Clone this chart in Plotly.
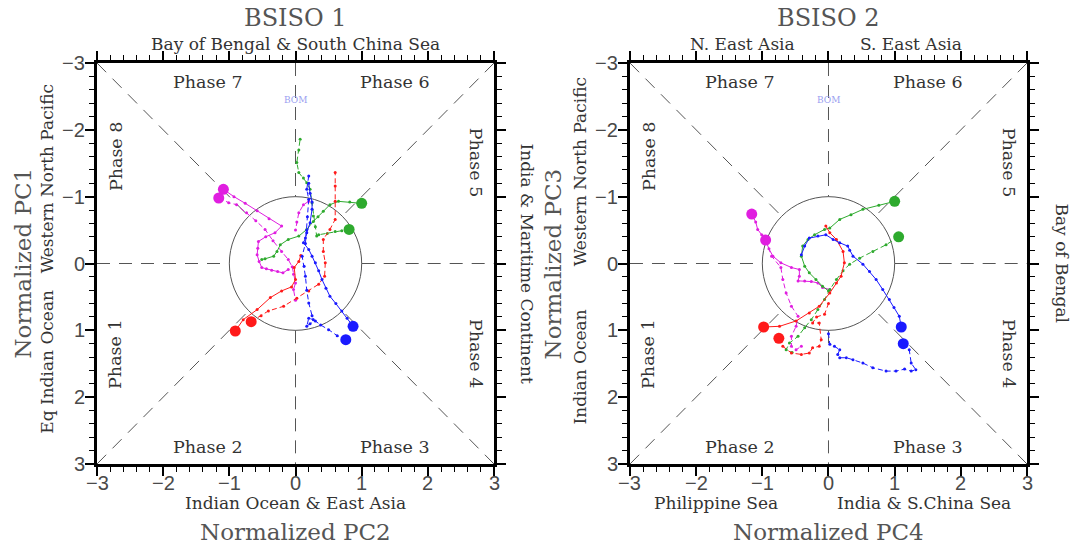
import math
import plotly.graph_objects as go

LIM = 3
R = 1.0

# ---------------- BSISO 1 (x = PC2, y = PC1) ----------------
b1_mag_solid_x = [-1.09, -0.93, -0.76, -0.58, -0.40, -0.21, -0.31, -0.45, -0.56, -0.57, -0.58, -0.55, -0.51, -0.44, -0.36, -0.27, -0.19, -0.11]
b1_mag_solid_y = [-1.11, -1.00, -0.90, -0.79, -0.67, -0.56, -0.46, -0.40, -0.33, -0.23, -0.13, -0.03, 0.06, 0.08, 0.10, 0.12, 0.14, 0.09]
b1_mag_dash_x = [-1.16, -1.01, -0.89, -0.74, -0.60, -0.46, -0.34, -0.21, -0.11, -0.05, -0.03, 0.00, -0.03, 0.00, None, 0.20, 0.12, 0.05, 0.02, 0.00]
b1_mag_dash_y = [-0.98, -0.91, -0.88, -0.76, -0.64, -0.51, -0.34, -0.18, -0.06, 0.05, 0.16, 0.29, 0.39, 0.55, None, -0.93, -0.88, -0.76, -0.62, -0.50]
b1_grn_solid_x = [1.00, 0.82, 0.65, 0.52, 0.42, 0.34, 0.27, 0.17, 0.05, -0.11, -0.23, -0.28, -0.33, -0.46, -0.51]
b1_grn_solid_y = [-0.90, -0.92, -0.93, -0.88, -0.78, -0.70, -0.63, -0.51, -0.41, -0.36, -0.28, -0.18, -0.11, -0.07, -0.06]
b1_grn_dash_x = [0.81, 0.70, 0.60, 0.48, 0.35, 0.32, 0.30, 0.27, 0.25, 0.22, 0.17, 0.12, 0.05, 0.02, 0.05, 0.07]
b1_grn_dash_y = [-0.51, -0.49, -0.48, -0.45, -0.43, -0.41, -0.55, -0.71, -0.91, -1.11, -1.21, -1.28, -1.36, -1.51, -1.70, -1.86]
b1_red_solid_x = [-0.91, -0.79, -0.58, -0.38, -0.21, -0.06, 0.00, -0.02, 0.05, 0.08]
b1_red_solid_y = [1.01, 0.84, 0.69, 0.51, 0.41, 0.35, 0.24, 0.06, -0.03, -0.12]
b1_red_dash_x = [-0.67, -0.52, -0.41, -0.18, 0.02, 0.20, 0.35, 0.44, 0.45, 0.42, 0.42, 0.52, 0.60, 0.60, 0.60, 0.60]
b1_red_dash_y = [0.87, 0.78, 0.71, 0.64, 0.52, 0.41, 0.31, 0.19, -0.01, -0.18, -0.36, -0.51, -0.66, -0.93, -1.16, -1.36]
b1_blu_solid_x = [0.87, 0.78, 0.70, 0.61, 0.52, 0.46, 0.40, 0.35, 0.30, 0.25, 0.20, 0.12, 0.15, 0.17, 0.22, 0.25, 0.25, 0.22, 0.20]
b1_blu_solid_y = [0.94, 0.82, 0.71, 0.60, 0.49, 0.37, 0.24, 0.11, -0.01, -0.11, -0.21, -0.31, -0.38, -0.46, -0.61, -0.81, -0.92, -1.05, -1.20]
b1_blu_dash_x = [0.76, 0.63, 0.50, 0.38, 0.30, 0.22, 0.17, 0.20, 0.27, 0.25, 0.20, 0.17, 0.15, 0.13, 0.10, 0.15, 0.17, 0.18, 0.20, 0.17, 0.20]
b1_blu_dash_y = [1.14, 1.08, 0.99, 0.92, 0.86, 0.90, 0.94, 0.82, 0.84, 0.78, 0.59, 0.40, 0.19, 0.04, -0.11, -0.30, -0.50, -0.70, -0.96, -1.11, -1.31]

# ---------------- BSISO 2 (x = PC4, y = PC3) ----------------
b2_mag_solid_x = [-1.16, -1.10, -1.07, -1.01, -0.95, -0.90, -0.84, -0.72, -0.56, -0.44, -0.44, -0.46, -0.36, -0.26, -0.16, -0.09, 0.02]
b2_mag_solid_y = [-0.74, -0.62, -0.51, -0.43, -0.35, -0.22, -0.11, -0.01, 0.06, 0.09, 0.19, 0.26, 0.26, 0.27, 0.29, 0.36, 0.39]
b2_mag_dash_x = [-0.95, -0.86, -0.72, -0.69, -0.64, -0.56, -0.46, -0.49, -0.56, -0.56, -0.49, -0.41]
b2_mag_dash_y = [-0.35, -0.11, 0.06, 0.24, 0.44, 0.64, 0.79, 0.94, 1.09, 1.24, 1.29, 1.24]
b2_grn_solid_x = [1.00, 0.76, 0.52, 0.34, 0.17, 0.02, -0.06, -0.21, -0.31, -0.39, -0.41, -0.36, -0.29, -0.19, -0.09, 0.00]
b2_grn_solid_y = [-0.93, -0.87, -0.81, -0.73, -0.66, -0.53, -0.51, -0.43, -0.36, -0.26, -0.11, 0.04, 0.14, 0.24, 0.34, 0.41]
b2_grn_dash_x = [1.06, 0.87, 0.67, 0.47, 0.32, 0.22, 0.12, 0.02, -0.06, -0.16, -0.26, -0.36, -0.46, -0.59, -0.64, -0.55]
b2_grn_dash_y = [-0.40, -0.28, -0.18, -0.08, 0.01, 0.11, 0.24, 0.39, 0.54, 0.69, 0.84, 0.96, 1.09, 1.19, 1.29, 1.33]
b2_red_solid_x = [-0.98, -0.74, -0.49, -0.29, -0.14, 0.02, 0.12, 0.19, 0.24, 0.22, 0.12, 0.02, -0.04]
b2_red_solid_y = [0.95, 0.94, 0.86, 0.74, 0.64, 0.44, 0.29, 0.19, -0.01, -0.18, -0.36, -0.46, -0.56]
b2_red_dash_x = [-0.75, -0.69, -0.56, -0.41, -0.29, -0.24, -0.14, -0.11, -0.14, -0.24, -0.18, -0.06, 0.00]
b2_red_dash_y = [1.12, 1.24, 1.34, 1.36, 1.34, 1.26, 1.24, 1.14, 0.89, 0.89, 0.80, 0.76, 0.60]
b2_blu_solid_x = [1.10, 1.07, 0.99, 0.92, 0.82, 0.72, 0.62, 0.52, 0.37, 0.32, 0.29, 0.17, 0.07, -0.04, -0.16, -0.29, -0.36, -0.41]
b2_blu_solid_y = [0.95, 0.79, 0.66, 0.54, 0.39, 0.24, 0.12, 0.01, -0.11, -0.20, -0.26, -0.31, -0.36, -0.43, -0.41, -0.38, -0.26, -0.13]
b2_blu_dash_x = [1.13, 1.22, 1.25, 1.32, 1.25, 1.15, 1.02, 0.87, 0.67, 0.52, 0.37, 0.27, 0.17, 0.14, 0.17, 0.09, 0.02, 0.00]
b2_blu_dash_y = [1.20, 1.29, 1.49, 1.59, 1.61, 1.58, 1.61, 1.61, 1.56, 1.49, 1.44, 1.41, 1.41, 1.36, 1.29, 1.24, 1.21, 1.05]

tick_vals = [-3, -2, -1, 0, 1, 2, 3]
phase_labels = ["Phase 1", "Phase 2", "Phase 3", "Phase 4", "Phase 5", "Phase 6", "Phase 7", "Phase 8"]

RED = "#ff1a1a"
GRN = "#2eaa2e"
BLU = "#1a1aff"
MAG = "#e01ee0"

fig = go.Figure()


def add_track(xs, ys, color, dashed, xa, ya):
    fig.add_trace(go.Scatter(
        x=xs, y=ys, mode="lines+markers", xaxis=xa, yaxis=ya,
        line=dict(color=color, width=1, dash="5px,3px" if dashed else "solid"),
        marker=dict(size=3, color=color), showlegend=False, hoverinfo="skip"))
    fig.add_trace(go.Scatter(
        x=[xs[0]], y=[ys[0]], mode="markers", xaxis=xa, yaxis=ya,
        marker=dict(size=11, color=color), showlegend=False, hoverinfo="skip"))


tracks1 = [
    (b1_mag_solid_x, b1_mag_solid_y, MAG, False), (b1_mag_dash_x, b1_mag_dash_y, MAG, True),
    (b1_grn_solid_x, b1_grn_solid_y, GRN, False), (b1_grn_dash_x, b1_grn_dash_y, GRN, True),
    (b1_red_solid_x, b1_red_solid_y, RED, False), (b1_red_dash_x, b1_red_dash_y, RED, True),
    (b1_blu_solid_x, b1_blu_solid_y, BLU, False), (b1_blu_dash_x, b1_blu_dash_y, BLU, True),
]
tracks2 = [
    (b2_mag_solid_x, b2_mag_solid_y, MAG, False), (b2_mag_dash_x, b2_mag_dash_y, MAG, True),
    (b2_grn_solid_x, b2_grn_solid_y, GRN, False), (b2_grn_dash_x, b2_grn_dash_y, GRN, True),
    (b2_red_solid_x, b2_red_solid_y, RED, False), (b2_red_dash_x, b2_red_dash_y, RED, True),
    (b2_blu_solid_x, b2_blu_solid_y, BLU, False), (b2_blu_dash_x, b2_blu_dash_y, BLU, True),
]
for t in tracks1:
    add_track(*t, "x", "y")
for t in tracks2:
    add_track(*t, "x2", "y2")

axis_common = dict(
    showline=True, linewidth=3, linecolor="black", mirror="allticks",
    ticks="outside", ticklen=9, tickwidth=2, tickcolor="black",
    tickvals=tick_vals, showgrid=False, zeroline=False, showticklabels=False,
    minor=dict(dtick=0.2, tick0=0, ticks="outside", ticklen=5, tickwidth=1,
               tickcolor="black", showgrid=False),
    fixedrange=True,
)

fig.update_layout(
    width=1078, height=548,
    margin=dict(l=97, r=51, t=63, b=84),
    paper_bgcolor="white", plot_bgcolor="white",
    xaxis=dict(domain=[0, 0.4269], range=[-LIM, LIM], anchor="y", **axis_common),
    yaxis=dict(domain=[0, 1], range=[LIM, -LIM], anchor="x", **axis_common),
    xaxis2=dict(domain=[0.5731, 1], range=[-LIM, LIM], anchor="y2", **axis_common),
    yaxis2=dict(domain=[0, 1], range=[LIM, -LIM], anchor="x2", **axis_common),
)

# guide lines and unit circle
shapes = []
d = R / math.sqrt(2)
for xr, yr in (("x", "y"), ("x2", "y2")):
    gl = dict(color="#555555", width=1, dash="13px,9px")
    segs = [
        (0, -LIM, 0, -R), (0, R, 0, LIM), (-LIM, 0, -R, 0), (R, 0, LIM, 0),
        (-LIM, -LIM, -d, -d), (LIM, -LIM, d, -d), (-LIM, LIM, -d, d), (LIM, LIM, d, d),
    ]
    for x0, y0, x1, y1 in segs:
        shapes.append(dict(type="line", xref=xr, yref=yr, x0=x0, y0=y0, x1=x1, y1=y1,
                           line=gl, layer="below"))
    shapes.append(dict(type="circle", xref=xr, yref=yr, x0=-R, y0=-R, x1=R, y1=R,
                       line=dict(color="#555555", width=1), layer="below"))
fig.update_layout(shapes=shapes)

SER = "DejaVu Serif"
ann = []


def A(text, x, y, xr, yr, size=15, color="#333333", angle=0, xs=0, ys=0, family=SER,
      xanchor="center"):
    ann.append(dict(text=text, x=x, y=y, xref=xr, yref=yr, showarrow=False,
                    textangle=angle, xshift=xs, yshift=ys,
                    font=dict(family=family, size=size, color=color),
                    xanchor=xanchor, yanchor="middle"))


def tick_text(v):
    return ("\u2212" + str(-v)) if v < 0 else str(v)


# tick labels (left and bottom of each panel)
for xr, yr in (("x", "y"), ("x2", "y2")):
    for v in tick_vals:
        A(tick_text(v), v, LIM, xr, yr, size=20, color="#4a4a4a", ys=-19,
          family="Liberation Sans")
        A(tick_text(v), -LIM, v, xr, yr, size=20, color="#4a4a4a", xs=-10,
          family="Liberation Sans", xanchor="right")

PS = 17.5
for xr, yr in (("x", "y"), ("x2", "y2")):
    A(phase_labels[6], -1.33, -2.72, xr, yr, size=PS)
    A(phase_labels[5], 1.50, -2.72, xr, yr, size=PS)
    A(phase_labels[1], -1.33, 2.74, xr, yr, size=PS)
    A(phase_labels[2], 1.50, 2.74, xr, yr, size=PS)
    A(phase_labels[7], -2.72, -1.6, xr, yr, size=PS, angle=-90)
    A(phase_labels[0], -2.72, 1.36, xr, yr, size=PS, angle=-90)
    A(phase_labels[4], 2.72, -1.5, xr, yr, size=PS, angle=90)
    A(phase_labels[3], 2.72, 1.36, xr, yr, size=PS, angle=90)
    A("BOM", 0, -2.45, xr, yr, size=9, color="#9aa0f0")

LS = 17
# BSISO 1 labels
A("BSISO 1", 0, -LIM, "x", "y", size=24, color="#555555", ys=45)
A("Bay of Bengal &amp; South China Sea", 0, -LIM, "x", "y", size=LS, ys=19)
A("Indian Ocean &amp; East Asia", 0, LIM, "x", "y", size=LS, ys=-39)
A("Normalized PC2", 0, LIM, "x", "y", size=23, color="#555555", ys=-68)
A("Normalized PC1", -LIM, 0, "x", "y", size=23, color="#555555", angle=-90, xs=-75)
A("Western North Pacific", -LIM, -1.26, "x", "y", size=LS, angle=-90, xs=-50)
A("Eq Indian Ocean", -LIM, 1.47, "x", "y", size=LS, angle=-90, xs=-50)
A("India &amp; Maritime Continent", LIM, 0, "x", "y", size=LS, angle=90, xs=33)

# BSISO 2 labels
A("BSISO 2", 0, -LIM, "x2", "y2", size=24, color="#555555", ys=45)
A("N. East Asia", -1.3, -LIM, "x2", "y2", size=LS, ys=19)
A("S. East Asia", 1.25, -LIM, "x2", "y2", size=LS, ys=19)
A("Philippine Sea", -1.7, LIM, "x2", "y2", size=LS, ys=-39)
A("India &amp; S.China Sea", 1.45, LIM, "x2", "y2", size=LS, ys=-39)
A("Normalized PC4", 0, LIM, "x2", "y2", size=23, color="#555555", ys=-68)
A("Normalized PC3", -LIM, 0, "x2", "y2", size=23, color="#555555", angle=-90, xs=-77)
A("Western North Pacific", -LIM, -1.38, "x2", "y2", size=LS, angle=-90, xs=-50)
A("Indian Ocean", -LIM, 1.54, "x2", "y2", size=LS, angle=-90, xs=-50)
A("Bay of Bengal", LIM, 0, "x2", "y2", size=LS, angle=90, xs=35)

fig.update_layout(annotations=ann)
fig.write_html("out.html")
